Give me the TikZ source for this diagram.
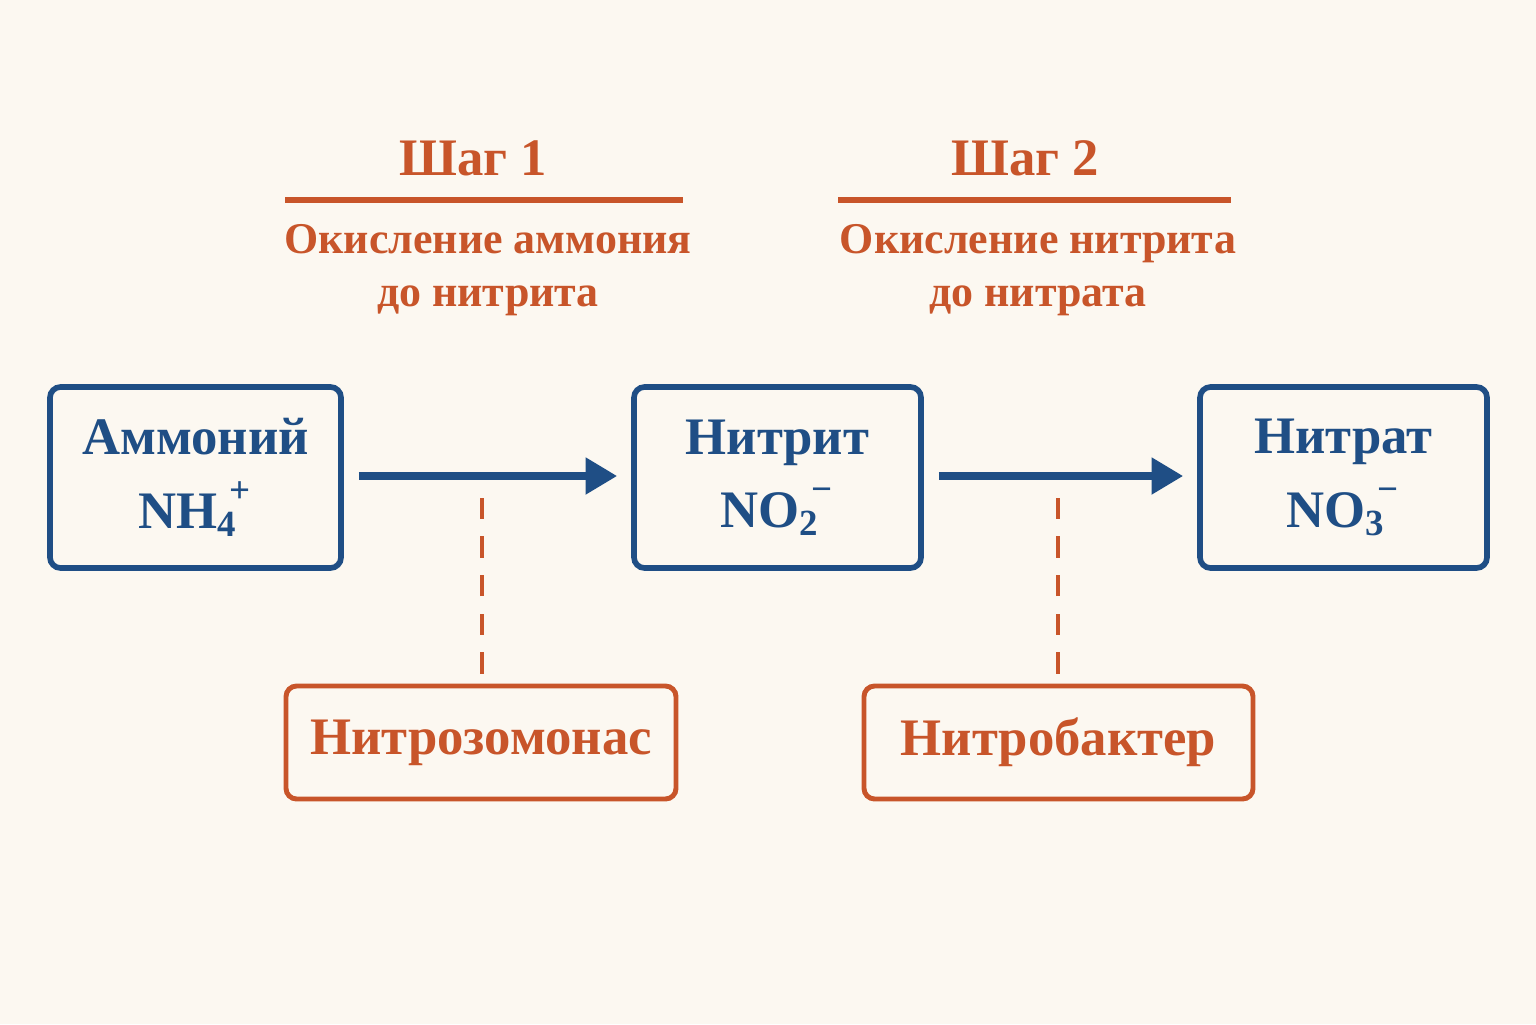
\documentclass[tikz,border=0pt]{standalone}
\usepackage{fontspec}
\setmainfont{Liberation Serif}
\usetikzlibrary{positioning,arrows.meta}
\definecolor{bgcol}{HTML}{FCF8F1}
\definecolor{chemblue}{HTML}{1F4E85}
\definecolor{stepred}{HTML}{C8552A}
\newcommand{\ion}[2]{\textsubscript{#1}\kern-0.15em\raisebox{0.15em}{\textsuperscript{#2}}}
\tikzset{
  species/.style={draw=chemblue, line width=1.6pt, rounded corners=3pt, text=chemblue,
    minimum width=2.87cm, minimum height=1.81cm, align=center,
    font=\bfseries\fontsize{15}{21}\selectfont},
  microbe/.style={draw=stepred, line width=1.4pt, rounded corners=3pt, text=stepred,
    minimum width=3.9cm, minimum height=1.13cm, font=\bfseries\fontsize{15}{18}\selectfont},
  steptitle/.style={text=stepred, font=\bfseries\fontsize{15}{18}\selectfont},
  stepnote/.style={text=stepred, align=center, font=\bfseries\fontsize{12.5}{15}\selectfont},
  flow/.style={draw=chemblue, line width=2.2pt, -{Triangle[length=9pt,width=10pt]}},
  link/.style={draw=stepred, line width=1.4pt, dash pattern=on 6pt off 5pt}
}
\begin{document}
\begin{tikzpicture}
  \fill[bgcol] (0,0) rectangle (15.36,10.24);
  \useasboundingbox (0,0) rectangle (15.36,10.24);

  % species
  \node[species, minimum width=2.91cm] (ammonium) at (1.955,5.465) {Аммоний\\NH\ion{4}{+}};
  \node[species] (nitrite) at (7.775,5.465) {Нитрит\\NO\ion{2}{−}};
  \node[species] (nitrate) at (13.435,5.465) {Нитрат\\NO\ion{3}{−}};

  % bacteria
  \node[microbe] (nitrosomonas) at (4.81,2.815) {Нитрозомонас};
  \node[microbe, minimum width=3.89cm] (nitrobacter) at (10.585,2.815) {Нитробактер};

  % steps
  \node[steptitle] (step1) at (4.73,8.66) {Шаг 1};
  \draw[stepred, line width=1.6pt] (2.85,8.24) -- (6.83,8.24);
  \node[stepnote] (note1) at (4.88,7.54) {Окисление аммония\\до нитрита};
  \node[steptitle] (step2) at (10.25,8.66) {Шаг 2};
  \draw[stepred, line width=1.6pt] (8.38,8.24) -- (12.31,8.24);
  \node[stepnote] (note2) at (10.38,7.54) {Окисление нитрита\\до нитрата};

  % reactions
  \draw[flow, shorten <=0.15cm, shorten >=0.14cm] (ammonium.east |- 0,5.48) -- (nitrite.west |- 0,5.48);
  \draw[flow, shorten <=0.15cm, shorten >=0.14cm] (nitrite.east |- 0,5.48) -- (nitrate.west |- 0,5.48);
  \coordinate (cat1) at (4.82,5.38);
  \coordinate (cat2) at (10.58,5.38);
  \draw[link] (nitrosomonas.north -| cat1) ++(0,0.1) -- (cat1);
  \draw[link] (nitrobacter.north -| cat2) ++(0,0.1) -- (cat2);
\end{tikzpicture}
\end{document}
